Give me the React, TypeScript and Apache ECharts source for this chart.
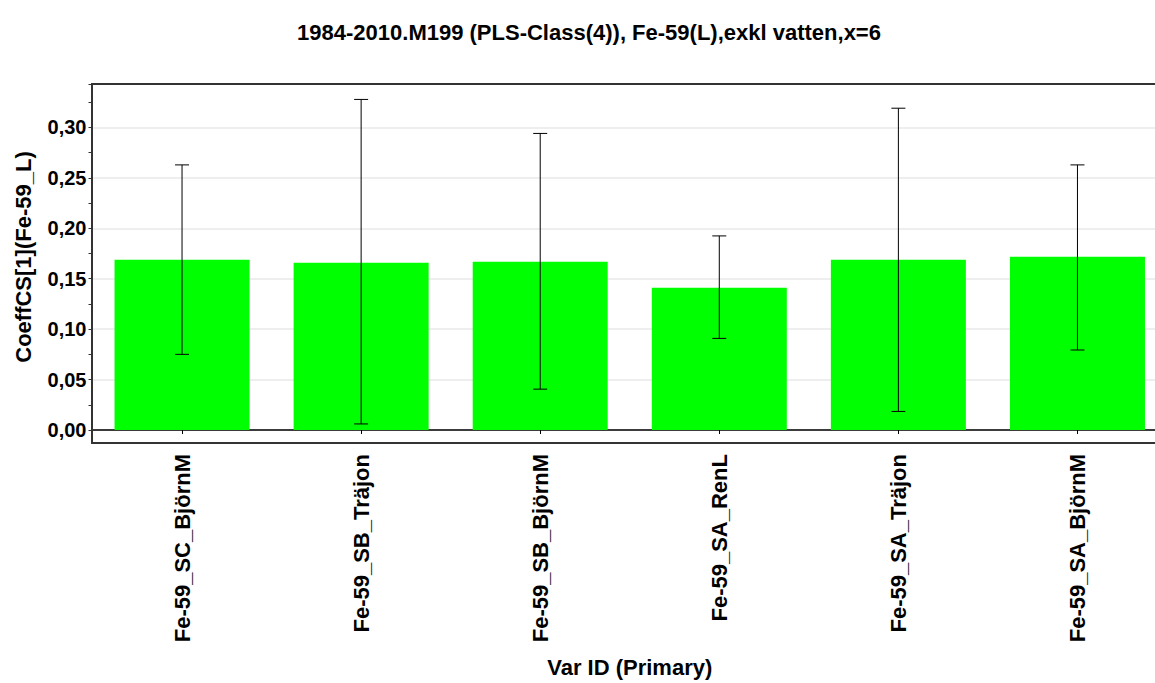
import React, { useEffect, useRef } from "react";
import * as echarts from "echarts";

const categories = [
  "Fe-59_SC_BjörnM",
  "Fe-59_SB_Träjon",
  "Fe-59_SB_BjörnM",
  "Fe-59_SA_RenL",
  "Fe-59_SA_Träjon",
  "Fe-59_SA_BjörnM",
];
const values = [0.1688, 0.1658, 0.1668, 0.1411, 0.1688, 0.1717];
const errLow = [0.075, 0.006, 0.0405, 0.0908, 0.0184, 0.0793];
const errHigh = [0.2628, 0.3277, 0.294, 0.1924, 0.319, 0.2628];

const FONT = "'Liberation Sans', Arial, sans-serif";

export default function App() {
  const ref = useRef<HTMLDivElement>(null);
  useEffect(() => {
    document.body.style.margin = "0";
    document.body.style.overflow = "hidden";
    const chart = echarts.init(ref.current!, null, { renderer: "svg" });
    const errData = categories.map((_, i) => [i, errLow[i], errHigh[i]]);
    chart.setOption({
      animation: false,
      backgroundColor: "#ffffff",
      title: {
        text: "1984-2010.M199 (PLS-Class(4)), Fe-59(L),exkl vatten,x=6",
        left: 584,
        top: 16,
        textAlign: "center",
        textStyle: { fontFamily: FONT, fontWeight: "bold", fontSize: 22, color: "#000" },
      },
      grid: { left: 92.5, top: 84, right: 0, bottom: 251, containLabel: false },
      xAxis: {
        type: "category",
        data: categories,
        name: "Var ID (Primary)",
        nameLocation: "middle",
        nameGap: 226,
        nameTextStyle: { fontFamily: FONT, fontWeight: "bold", fontSize: 22, color: "#000" },
        axisLine: { show: true, lineStyle: { color: "#000", width: 1.5 } },
        axisTick: { show: true, alignWithLabel: true, length: 4, lineStyle: { color: "#000" } },
        axisLabel: {
          rotate: 90,
          margin: 24,
          interval: 0,
          fontFamily: FONT,
          fontWeight: "bold",
          fontSize: 22,
          color: "#000",
        },
        splitLine: { show: false },
      },
      yAxis: {
        type: "value",
        min: 0,
        max: 0.343,
        interval: 0.05,
        name: "CoeffCS[1](Fe-59_L)",
        nameLocation: "middle",
        nameGap: 58,
        nameTextStyle: { fontFamily: FONT, fontWeight: "bold", fontSize: 22, color: "#000" },
        axisLine: { show: false },
        axisTick: { show: true, length: 4, lineStyle: { color: "#333" } },
        minorTick: { show: true, splitNumber: 2, length: 4, lineStyle: { color: "#333" } },
        axisLabel: {
          showMaxLabel: false,
          margin: 6,
          fontFamily: FONT,
          fontWeight: "bold",
          fontSize: 20,
          color: "#000",
          formatter: (v: number) => v.toFixed(2).replace(".", ","),
        },
        splitLine: { show: true, lineStyle: { color: "#e8e8e8", width: 1.5 } },
      },
      graphic: [
        {
          type: "rect",
          shape: { x: 92, y: 84, width: 1100, height: 359 },
          style: { fill: "none", stroke: "#333", lineWidth: 2 },
          z: 100,
          silent: true,
        },
      ],
      series: [
        {
          type: "bar",
          data: values,
          barWidth: 135,
          itemStyle: { color: "#00ff00" },
          z: 2,
        },
        {
          type: "custom",
          data: errData,
          z: 10,
          renderItem: (params: any, api: any) => {
            const x = api.value(0);
            const lo = api.coord([x, api.value(1)]);
            const hi = api.coord([x, api.value(2)]);
            const hw = 7;
            const style = { stroke: "#000", lineWidth: 1 };
            return {
              type: "group",
              children: [
                { type: "line", shape: { x1: hi[0], y1: hi[1], x2: lo[0], y2: lo[1] }, style },
                { type: "line", shape: { x1: hi[0] - hw, y1: hi[1], x2: hi[0] + hw, y2: hi[1] }, style },
                { type: "line", shape: { x1: lo[0] - hw, y1: lo[1], x2: lo[0] + hw, y2: lo[1] }, style },
              ],
            };
          },
        },
      ],
    });
    return () => chart.dispose();
  }, []);
  return <div ref={ref} style={{ width: 1167, height: 683 }} />;
}
